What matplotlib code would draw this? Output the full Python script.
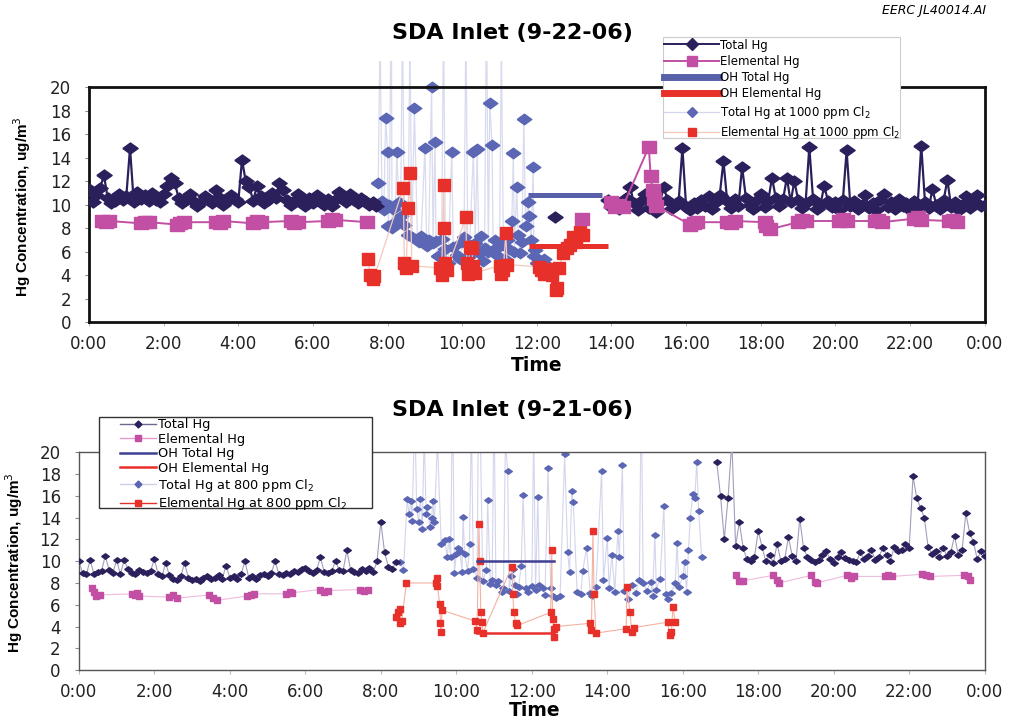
import numpy as np
import matplotlib.pyplot as plt
from matplotlib.patches import Rectangle
from matplotlib.lines import Line2D

plt.rcParams["font.family"] = ["DejaVu Sans"]

# ---------------- SDA Inlet 9-22-06 (1000 ppm Cl2) ----------------
# total Hg, sampled every 6 min before and after the chlorine test
top_total_am = [
    11.3, 10.2, 10.8, 11.4, 12.5, 10.6, 10.1, 10.3, 10.9, 10.4,
    10.7, 14.8, 10.2, 11.1, 10.5, 10.8, 10.3, 11.0, 10.4, 10.2,
    10.9, 11.6, 12.3, 11.8, 10.6, 10.1, 10.4, 10.9, 10.3, 9.9,
    10.2, 10.7, 10.4, 10.1, 11.2, 10.6, 10.0, 10.3, 10.8, 10.5,
    10.2, 13.8, 12.0, 11.5, 10.3, 11.6, 10.7, 10.1, 10.4, 11.0,
    10.6, 11.8, 11.2, 10.4, 10.0, 10.3, 10.9, 10.2, 9.9, 10.6,
    10.1, 10.8, 10.3, 10.0, 10.5, 9.9, 10.4, 11.1, 10.7, 10.2,
    10.9, 10.4, 10.1, 10.6, 10.3, 10.0, 10.2, 9.9,
]
top_total_pm = [
    10.4, 9.8, 10.2, 9.6, 10.0, 10.6, 11.5, 10.1, 9.5, 10.3,
    10.9, 9.7, 10.0, 9.4, 10.2, 11.5, 10.4, 9.6, 9.9, 10.3,
    14.8, 9.8, 9.5, 10.1, 9.7, 10.4, 9.9, 10.7, 9.6, 10.2,
    10.8, 13.7, 10.3, 9.7, 10.5, 9.9, 13.2, 10.6, 10.0, 9.6,
    10.4, 10.9, 9.8, 10.3, 12.3, 10.6, 9.9, 10.5, 12.3, 10.2,
    12.0, 10.4, 9.7, 10.1, 14.9, 10.5, 9.6, 10.0, 11.6, 10.3,
    9.8, 10.2, 9.5, 10.4, 14.6, 9.9, 10.3, 9.6, 10.0, 10.8,
    9.7, 10.1, 9.5, 10.4, 10.9, 9.8, 10.2, 9.6, 10.5, 9.9,
    10.1, 9.5, 10.3, 9.8, 15.0, 10.2, 9.7, 11.3, 10.0, 9.6,
    10.4, 12.1, 9.8, 10.2, 9.5, 10.0, 10.7, 9.7, 10.3, 10.8,
    9.9, 10.0,
]
top_total_mid_t = [12.48]
top_total_mid = [8.9]

top_elem_t = [0.35, 0.45, 0.55, 1.4, 1.5, 1.6, 2.35, 2.45, 2.55, 3.4, 3.5, 3.6,
              4.4, 4.5, 4.6, 5.4, 5.5, 5.6, 6.4, 6.5, 6.6, 7.45, np.nan,
              13.2, np.nan,
              14.0, 14.1, 14.2, 14.3, 15.0, 15.05, 15.1, 15.15, 15.2,
              16.1, 16.2, 16.3, 17.1, 17.2, 17.3, 18.1, 18.15, 18.25,
              19.0, 19.1, 19.2, 20.1, 20.2, 20.3, 21.05, 21.15, 21.25,
              22.1, 22.2, 22.3, 23.05, 23.15, 23.25]
top_elem = [8.6, 8.5, 8.6, 8.4, 8.5, 8.5, 8.3, 8.4, 8.5, 8.5, 8.4, 8.6,
            8.4, 8.6, 8.5, 8.6, 8.4, 8.5, 8.6, 8.8, 8.7, 8.5, np.nan,
            8.8, np.nan,
            10.2, 9.8, 10.0, 9.8, 14.9, 12.4, 11.2, 10.5, 9.9,
            8.3, 8.4, 8.5, 8.5, 8.4, 8.6, 8.5, 8.2, 7.9,
            8.5, 8.7, 8.6, 8.6, 8.8, 8.6, 8.6, 8.7, 8.5,
            8.8, 8.9, 8.7, 8.6, 8.7, 8.5]

top_oh_total_t = [11.75, 13.75]
top_oh_total = [10.8, 10.8]
top_oh_elem_t = [11.8, 13.9]
top_oh_elem = [6.5, 6.5]

top_cl_total_t = [7.75, 7.8, 7.85, 7.9, 7.95, 8.0, 8.02, 8.05, 8.1, 8.12, 8.15, 8.2,
                  8.25, 8.3, 8.35, 8.4, 8.45, 8.55, 8.6, 8.65, 8.72, 8.8, 8.85, 8.9,
                  9.0, 9.05, 9.1, 9.18, 9.22, 9.27, 9.3, 9.35, 9.45, 9.5, 9.55, 9.62,
                  9.72, 9.76, 9.85, 9.95, 10.0, 10.05, 10.1, 10.15, 10.2, 10.3, 10.35,
                  10.4, 10.45, 10.5, 10.56, 10.6, 10.65, 10.7, 10.74, 10.8, 10.83,
                  10.88, 10.95, 11.0, 11.05, 11.1, 11.15, 11.2, 11.25, 11.33, 11.37,
                  11.4, 11.46, 11.5, 11.55, 11.6, 11.65, 11.7, 11.76, 11.8, 11.85,
                  11.9, 11.92, 11.95, 12.0, 12.1, 12.2, 12.3, 12.43]
top_cl_total = [11.8, 25.0, 10.3, 9.5, 17.4, 14.5, 8.2, 10.0, 30.0, 8.0, 9.6, 8.5,
                14.5, 10.2, 9.0, 26.0, 8.3, 7.4, 25.0, 7.2, 18.2, 7.1, 6.8, 7.3,
                14.8, 6.5, 7.0, 20.0, 6.7, 15.3, 6.9, 5.6, 7.1, 26.0, 6.2, 5.0,
                14.5, 6.4, 5.7, 5.4, 6.8, 7.2, 26.0, 5.5, 6.6, 14.5, 6.7,
                14.7, 5.9, 7.3, 5.2, 6.3, 28.0, 6.0, 18.6, 15.1, 6.1,
                7.0, 5.6, 6.5, 24.0, 6.9, 5.4, 7.0, 6.2, 8.6, 14.4,
                6.0, 11.5, 7.4, 5.9, 6.8, 17.3, 8.2, 10.2, 9.0, 7.0,
                13.2, 5.6, 6.1, 5.0, 4.6, 5.4, 4.8, 4.5]

top_cl_elem_t = [7.48, 7.53, 7.6, 7.65, 8.42, 8.45, 8.5, 8.55, 8.6, 8.65,
                 9.4, 9.45, 9.5, 9.52, 9.55, 9.58, 10.1, 10.12, 10.15, 10.2,
                 10.25, 10.3, 10.35, 11.0, 11.05, 11.1, 11.17, 11.2, 12.05, 12.1,
                 12.2, 12.3, 12.4, 12.5, 12.55, 12.6, 12.7, 12.8, 12.9, 12.97,
                 13.05, 13.15, 13.25]
top_cl_elem = [5.4, 4.0, 3.7, 3.9, 11.4, 5.0, 4.6, 9.7, 12.7, 4.8,
               4.6, 4.0, 11.7, 8.0, 5.0, 4.4, 8.9, 5.0, 4.1, 6.4,
               6.3, 4.8, 4.2, 4.8, 4.1, 4.4, 7.6, 4.9, 4.7, 4.4,
               4.1, 4.5, 4.0, 2.7, 2.9, 4.6, 5.9, 6.3, 6.6, 7.2,
               6.8, 7.7, 7.4]

# ---------------- SDA Inlet 9-21-06 (800 ppm Cl2) ----------------
bot_total_am = [
    10.0, 8.9, 8.8, 10.1, 8.8, 9.0, 9.1, 10.5, 9.2, 8.9,
    10.1, 8.8, 10.1, 9.3, 8.9, 8.8, 9.2, 9.0, 8.9, 9.1,
    10.2, 8.8, 8.6, 9.8, 8.7, 8.4, 8.3, 8.6, 9.8, 8.5,
    8.3, 8.4, 8.2, 8.5, 8.6, 8.4, 8.5, 8.7, 8.4, 9.6,
    8.5, 8.6, 8.4, 8.8, 10.0, 8.5, 8.6, 8.4, 8.7, 8.8,
    8.6, 8.9, 10.0, 8.8, 8.7, 8.9, 8.8, 9.1, 9.0, 9.3,
    9.4, 9.1, 8.9, 9.2, 10.4, 9.0, 8.9, 9.1, 10.0, 9.2,
    9.1, 11.0, 9.2, 9.0, 8.9, 9.3, 9.1, 9.4, 9.0, 10.0,
    13.6, 10.8, 9.5, 9.3, 9.9,
]
bot_total_pm = [
    19.1, 16.0, 12.0, 15.8, 21.0, 11.4, 13.6, 11.2, 10.2, 10.0, 10.4,
    12.8, 11.3, 10.0, 10.6, 9.8, 11.6, 10.0, 10.2, 12.2, 10.5,
    10.0, 13.9, 11.2, 10.4, 10.1, 9.9, 10.1, 10.6, 10.9, 10.2,
    9.8, 10.4, 10.8, 10.3, 10.1, 10.0, 9.9, 10.8, 10.2, 10.5,
    11.0, 10.1, 10.4, 11.2, 10.6, 10.0, 11.3, 10.9, 11.0, 11.6,
    11.2, 17.8, 15.8, 14.9, 14.0, 11.3, 10.7, 10.9, 10.4, 11.2,
    10.5, 10.8, 12.3, 10.6, 11.0, 14.4, 12.6, 11.8, 10.2, 10.9,
    10.5,
]

bot_elem_t = [0.35, 0.4, 0.45, 0.55, 1.4, 1.5, 1.55, 1.6, 2.4, 2.5, 2.6,
              3.45, 3.55, 3.65, 4.45, 4.55, 4.65, 5.5, 5.6, 5.65, 6.4, 6.5, 6.6,
              7.45, 7.55, 7.65, np.nan,
              17.4, 17.5, 17.6, 18.4, 18.5, 18.55, 19.4, 19.5, 19.55,
              20.35, 20.45, 20.55, 21.35, 21.45, 21.55, 22.35, 22.45, 22.55,
              23.45, 23.55, 23.6]
bot_elem = [7.5, 7.2, 6.8, 6.9, 7.0, 6.9, 7.1, 6.8, 6.7, 6.9, 6.6,
            6.9, 6.6, 6.4, 6.8, 6.9, 7.0, 7.0, 7.2, 7.1, 7.4, 7.2, 7.3,
            7.4, 7.3, 7.4, np.nan,
            8.7, 8.2, 8.2, 8.7, 8.3, 8.0, 8.7, 8.1, 8.0,
            8.7, 8.5, 8.6, 8.6, 8.7, 8.6, 8.8, 8.7, 8.6,
            8.7, 8.6, 8.3]

bot_oh_total_t = [10.54, 12.6]
bot_oh_total = [10.0, 10.0]
bot_oh_elem_t = [10.54, 12.6]
bot_oh_elem = [3.4, 3.4]

bot_cl_total_t = [8.5, 8.6, 8.7, 8.75, 8.8, 8.83, 8.9, 8.95, 9.0, 9.05, 9.1, 9.15,
                  9.2, 9.23, 9.3, 9.35, 9.38, 9.42, 9.5, 9.6, 9.7, 9.76, 9.8, 9.85,
                  9.9, 9.95, 10.0, 10.05, 10.1, 10.15, 10.18, 10.22, 10.3, 10.35,
                  10.4, 10.45, 10.55, 10.6, 10.7, 10.8, 10.83, 10.9, 10.95, 11.0,
                  11.05, 11.1, 11.2, 11.25, 11.3, 11.36, 11.4, 11.45, 11.5, 11.55,
                  11.6, 11.65, 11.72, 11.77, 11.85, 11.9, 12.0, 12.05, 12.1, 12.16,
                  12.2, 12.3, 12.35, 12.43, 12.5, 12.55, 12.65, 12.75, 12.87, 12.95,
                  13.0, 13.06, 13.1, 13.2, 13.3, 13.35, 13.45, 13.55, 13.6, 13.7,
                  13.85, 13.9, 14.0, 14.05, 14.12, 14.2, 14.28, 14.32, 14.4, 14.45,
                  14.55, 14.65, 14.75, 14.85, 14.9, 14.95, 15.05, 15.15, 15.2, 15.26,
                  15.3, 15.4, 15.5, 15.55, 15.6, 15.7, 15.8, 15.85, 15.9, 16.0,
                  16.05, 16.1, 16.15, 16.2, 16.27, 16.32, 16.37, 16.42, 16.5]
bot_cl_total = [9.9, 9.2, 15.7, 14.3, 15.5, 13.7, 24.0, 14.8, 13.6, 15.7, 13.0, 22.0,
                14.3, 15.0, 13.1, 14.0, 15.5, 13.6, 21.0, 11.6, 11.9, 10.4, 12.0, 10.4,
                26.0, 8.9, 10.7, 11.2, 10.9, 9.0, 14.1, 10.7, 9.1, 11.6,
                23.0, 9.3, 8.5, 30.0, 8.2, 9.2, 15.6, 7.9, 8.3, 25.0,
                7.8, 8.2, 7.2, 7.5, 21.0, 18.3, 7.3, 8.6, 9.3, 7.8,
                7.0, 7.6, 9.6, 16.1, 7.5, 7.2, 7.7, 22.0, 7.4, 15.9,
                7.8, 7.5, 6.9, 18.6, 7.5, 6.8, 6.6, 6.8, 19.8, 10.8,
                9.0, 16.4, 15.4, 7.2, 7.0, 9.1, 11.2, 7.1, 6.8, 7.6,
                18.3, 8.3, 12.1, 7.5, 10.6, 7.2, 12.8, 10.4, 18.8, 7.3,
                6.5, 7.8, 7.1, 8.3, 26.0, 8.0, 7.3, 8.1, 6.8, 12.4,
                7.4, 8.4, 15.1, 7.0, 6.5, 7.1, 8.0, 11.7, 7.6, 8.6,
                9.9, 7.2, 11.0, 14.0, 16.2, 15.8, 19.1, 14.6, 10.4]

bot_cl_elem_t = [8.4, 8.45, 8.5, 8.52, 8.55, 8.68, 9.45, 9.49, 9.5, 9.56, 9.58, 9.6,
                 9.62, 10.5, 10.55, 10.6, 10.62, 10.65, 10.68, 10.7, 11.47, 11.5,
                 11.52, 11.58, 11.62, 12.5, 12.53, 12.55, 12.58, 12.6, 12.65, 13.55,
                 13.58, 13.62, 13.65, 13.7, 14.5, 14.52, 14.6, 14.65, 14.7, 15.6,
                 15.65, 15.7, 15.74, 15.8]
bot_cl_elem = [4.9, 5.3, 5.6, 4.3, 4.5, 8.0, 8.0, 8.5, 7.7, 6.1, 4.3, 3.5,
               5.5, 4.5, 3.7, 13.4, 10.0, 5.3, 4.4, 3.4, 9.5, 7.0,
               5.3, 4.3, 4.1, 5.3, 11.0, 4.7, 3.8, 3.0, 4.0, 4.3,
               3.7, 12.8, 7.0, 3.4, 3.8, 7.6, 5.3, 3.5, 3.9, 4.4,
               3.2, 3.5, 5.8, 4.4]

hour_ticks = list(range(0, 25, 2))
hour_labels = [f"{h % 24}:00" for h in hour_ticks]

NAVY = "#2b1f5c"
MAGENTA = "#c24fa3"
CL_BLUE = "#5b66b4"
RED = "#e8302a"
OH_BLUE = "#5860aa"

# flattened diamond and slightly wide square markers
diamond = [(-1, 0), (0, 0.72), (1, 0), (0, -0.72), (-1, 0)]
wide_sq = [(-1, -0.85), (1, -0.85), (1, 0.85), (-1, 0.85), (-1, -0.85)]

fig = plt.figure(figsize=(10.11, 7.19), dpi=100)


def style_axes(ax, spine_color, spine_width):
    ax.set_xlim(0, 24)
    ax.set_ylim(0, 20)
    ax.set_xticks(hour_ticks)
    ax.set_xticklabels(hour_labels)
    ax.set_yticks(range(0, 21, 2))
    ax.tick_params(axis="y", length=3, pad=10, labelsize=12, color="#888888", labelcolor="#222222")
    ax.tick_params(axis="x", length=3, pad=6, labelsize=12, color="#bbbbbb", labelcolor="#222222")
    for s in ax.spines.values():
        s.set_color(spine_color)
        s.set_linewidth(spine_width)


# ---- upper panel ----
ax1 = fig.add_axes([0.088, 0.552, 0.886, 0.327])
style_axes(ax1, "#111111", 2.0)
# the thin chlorine-test traces run up past the frame
above = Rectangle((0, 0), 24, 22.2, transform=ax1.transData)

h_cl_tot, = ax1.plot(top_cl_total_t, top_cl_total, color="#d9dbef", lw=0.9,
                     marker=diamond, ms=10.5, mfc=CL_BLUE, mec=CL_BLUE, zorder=2)
h_cl_el, = ax1.plot(top_cl_elem_t, top_cl_elem, color="#f5c8bb", lw=0.9,
                    marker="s", ms=8, mfc=RED, mec=RED, zorder=2)
h_cl_tot.set_clip_path(above)
h_cl_el.set_clip_path(above)
h_oh_tot, = ax1.plot(top_oh_total_t, top_oh_total, color=OH_BLUE, lw=3.6, solid_capstyle="butt", zorder=3)
h_oh_el, = ax1.plot(top_oh_elem_t, top_oh_elem, color=RED, lw=3.6, solid_capstyle="butt", zorder=3)

am_t = np.linspace(0.0, 7.7, len(top_total_am))
pm_t = np.linspace(13.9, 24.0, len(top_total_pm))
kw_tot = dict(color=NAVY, lw=1.6, marker=diamond, ms=11, mfc=NAVY, mec=NAVY, zorder=4)
h_tot, = ax1.plot(am_t, top_total_am, **kw_tot)
ax1.plot(pm_t, top_total_pm, **kw_tot)
ax1.plot(top_total_mid_t, top_total_mid, ls="none", marker=diamond, ms=11, color=NAVY, zorder=4)
h_el, = ax1.plot(top_elem_t, top_elem, color=MAGENTA, lw=1.4, marker=wide_sq, ms=10,
                 mfc=MAGENTA, mec=MAGENTA, zorder=4)

fig.add_artist(Rectangle((0.656, 0.808), 0.234, 0.140, transform=fig.transFigure,
                         facecolor="white", edgecolor="#cccccc", lw=0.8, zorder=1))
leg1_handles = [
    Line2D([], [], color=NAVY, lw=1.4, marker="D", ms=6, mfc=NAVY, mec=NAVY),
    Line2D([], [], color=MAGENTA, lw=1.4, marker="s", ms=7, mfc=MAGENTA, mec=MAGENTA),
    Line2D([], [], color=OH_BLUE, lw=5),
    Line2D([], [], color=RED, lw=5),
    Line2D([], [], color="#d3d5ec", lw=0.9, marker="D", ms=5, mfc=CL_BLUE, mec=CL_BLUE),
    Line2D([], [], color="#f5c8bb", lw=0.9, marker="s", ms=6, mfc=RED, mec=RED),
]
leg1_labels = ["Total Hg", "Elemental Hg", "OH Total Hg", "OH Elemental Hg",
               "Total Hg at 1000 ppm Cl$_2$", "Elemental Hg at 1000 ppm Cl$_2$"]
fig.legend(leg1_handles, leg1_labels, loc="upper left", bbox_to_anchor=(0.656, 0.948),
           frameon=False, fontsize=8.5, handlelength=4.6, handletextpad=0.15,
           labelspacing=0.28, borderpad=0.1, borderaxespad=0)

fig.text(0.507, 0.954, "SDA Inlet (9-22-06)", ha="center", va="center", fontsize=16, fontweight="bold")
fig.text(0.531, 0.491, "Time", ha="center", va="center", fontsize=13.5, fontweight="bold")
fig.text(0.022, 0.713, "Hg Concentration, ug/m$^3$", rotation=90, ha="center", va="center",
         fontsize=11, fontweight="bold", family="Liberation Sans")
fig.text(0.975, 0.986, "EERC JL40014.AI", ha="right", va="center", fontsize=9, style="italic")

# ---- lower panel ----
ax2 = fig.add_axes([0.078, 0.068, 0.896, 0.303])
style_axes(ax2, "#555555", 1.0)

b_cl_tot, = ax2.plot(bot_cl_total_t, bot_cl_total, color="#d3d5ec", lw=0.8,
                     marker=diamond, ms=5.5, mfc=CL_BLUE, mec=CL_BLUE, zorder=2)
b_cl_el, = ax2.plot(bot_cl_elem_t, bot_cl_elem, color="#f3b2a2", lw=0.8,
                    marker="s", ms=4.5, mfc=RED, mec=RED, zorder=2)
b_oh_tot, = ax2.plot(bot_oh_total_t, bot_oh_total, color="#3e3f92", lw=1.8, zorder=3)
b_oh_el, = ax2.plot(bot_oh_elem_t, bot_oh_elem, color=RED, lw=1.8, zorder=3)

bam_t = np.linspace(0.0, 8.4, len(bot_total_am))
bpm_t = np.linspace(16.9, 24.0, len(bot_total_pm))
kw_btot = dict(color="#a29ebb", lw=0.8, marker=diamond, ms=5.5, mfc=NAVY, mec=NAVY, zorder=4)
b_tot, = ax2.plot(bam_t, bot_total_am, **kw_btot)
ax2.plot(bpm_t, bot_total_pm, **kw_btot)
b_el, = ax2.plot(bot_elem_t, bot_elem, color="#eebbdc", lw=0.8, marker=wide_sq, ms=5,
                 mfc=MAGENTA, mec=MAGENTA, zorder=4)

fig.add_artist(Rectangle((0.098, 0.2935), 0.270, 0.1266, transform=fig.transFigure,
                         facecolor="white", edgecolor="#333333", lw=1.0, zorder=1))
leg2_handles = [
    Line2D([], [], color="#6d6890", lw=1.0, marker="D", ms=3.5, mfc=NAVY, mec=NAVY),
    Line2D([], [], color="#e39ccb", lw=1.0, marker="s", ms=4, mfc=MAGENTA, mec=MAGENTA),
    Line2D([], [], color="#3e3f92", lw=1.8),
    Line2D([], [], color=RED, lw=1.8),
    Line2D([], [], color="#cfd1ea", lw=1.0, marker="D", ms=3.5, mfc=CL_BLUE, mec=CL_BLUE),
    Line2D([], [], color=RED, lw=1.0, marker="s", ms=4, mfc=RED, mec=RED),
]
leg2_labels = ["Total Hg", "Elemental Hg", "OH Total Hg", "OH Elemental Hg",
               "Total Hg at 800 ppm Cl$_2$", "Elemental Hg at 800 ppm Cl$_2$"]
fig.legend(leg2_handles, leg2_labels, loc="upper left", bbox_to_anchor=(0.117, 0.420),
           frameon=False, fontsize=9.3, handlelength=2.8, handletextpad=0.15,
           labelspacing=0.12, borderpad=0.1, borderaxespad=0)

fig.text(0.507, 0.430, "SDA Inlet (9-21-06)", ha="center", va="center", fontsize=16, fontweight="bold")
fig.text(0.529, 0.0125, "Time", ha="center", va="center", fontsize=13.5, fontweight="bold")
fig.text(0.014, 0.218, "Hg Concentration, ug/m$^3$", rotation=90, ha="center", va="center",
         fontsize=11, fontweight="bold", family="Liberation Sans")

fig.savefig("out.png", dpi=100)
